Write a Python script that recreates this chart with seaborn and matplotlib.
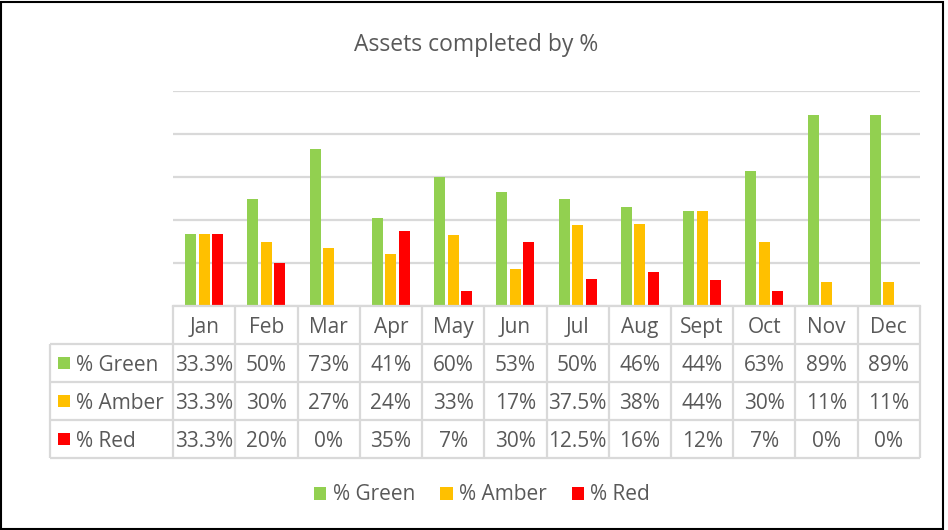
import numpy as np
import pandas as pd
import seaborn as sns
import matplotlib.pyplot as plt
from matplotlib.patches import Rectangle

months = ["Jan", "Feb", "Mar", "Apr", "May", "Jun", "Jul", "Aug", "Sept", "Oct", "Nov", "Dec"]
green = [33.3, 50, 73, 41, 60, 53, 50, 46, 44, 63, 89, 89]
amber = [33.3, 30, 27, 24, 33, 17, 37.5, 38, 44, 30, 11, 11]
red = [33.3, 20, 0, 35, 7, 30, 12.5, 16, 12, 7, 0, 0]
series_names = ["% Green", "% Amber", "% Red"]
colors = ["#92D050", "#FFC000", "#FF0000"]

df = pd.DataFrame({
    "month": months * 3,
    "value": green + amber + red,
    "series": np.repeat(series_names, len(months)),
})

sns.set_theme(style="white")
plt.rcParams["font.family"] = ["Open Sans", "DejaVu Sans"]
text_color = "#595959"
grid_color = "#D9D9D9"
fs = 15

W, H = 948, 530
fig = plt.figure(figsize=(W / 100, H / 100), dpi=100)


def fx(px):
    return px / W


def fy(py):
    return 1 - py / H


# main bar chart
ax = fig.add_axes([fx(173), fy(306), fx(920) - fx(173), fy(91) - fy(306)])
sns.barplot(data=df, x="month", y="value", hue="series",
            palette=dict(zip(series_names, colors)), saturation=1,
            width=0.65, gap=0.18, linewidth=0, ax=ax)
ax.set_xlim(-0.5, 11.5)
ax.set_ylim(0, 100)
ax.set_yticks(range(0, 101, 20))
ax.yaxis.grid(True, color=grid_color, lw=1.6)
ax.set_axisbelow(True)
ax.set(xlabel="", ylabel="")
ax.set_xticklabels([])
ax.set_yticklabels([])
ax.tick_params(length=0)
for s in ["left", "right", "top"]:
    ax.spines[s].set_visible(False)
ax.spines["bottom"].set_color(grid_color)
ax.spines["bottom"].set_linewidth(1.6)
handles, labels = ax.get_legend_handles_labels()
ax.get_legend().remove()

# data table below the chart
tab = fig.add_axes([fx(173), fy(458), fx(920) - fx(173), fy(306) - fy(458)])
tab.set_xlim(-0.5, 11.5)
tab.set_ylim(4, 0)
tab.axis("off")
unit = (920 - 173) / 12
left = -0.5 - (173 - 50) / unit
line_kw = dict(color=grid_color, lw=1.6, clip_on=False, solid_capstyle="butt")
for r in [1, 2, 3, 4]:
    tab.plot([left, 11.5], [r, r], **line_kw)
for c in np.arange(-0.5, 12):
    tab.plot([c, c], [0, 4], **line_kw)
tab.plot([left, left], [1, 4], **line_kw)

ty = 0.56  # vertical text position inside each row
for i, m in enumerate(months):
    tab.text(i, ty, m, ha="center", va="center", fontsize=fs, color=text_color)

key_x = -0.5 - (173 - 64) / unit
lab_x = -0.5 - (173 - 76) / unit
for r, (name, vals, col) in enumerate(zip(series_names, [green, amber, red], colors), start=1):
    for i, v in enumerate(vals):
        tab.text(i, r + ty, f"{v:g}%", ha="center", va="center",
                 fontsize=fs, color=text_color)
    tab.scatter([key_x], [r + 0.5], marker="s", s=85, color=col,
                linewidths=0, clip_on=False)
    tab.text(lab_x, r + ty, name, ha="left", va="center",
             fontsize=fs, color=text_color)

# title and legend
fig.text(fx(476), fy(45), "Assets completed by %", ha="center", va="center",
         fontsize=16.5, color=text_color)
fig.legend(handles, labels, loc="center", bbox_to_anchor=(fx(482), fy(495)),
           ncol=3, frameon=False, fontsize=fs, labelcolor=text_color,
           handlelength=0.6, handleheight=0.6, handletextpad=0.3,
           columnspacing=1.2)

fig.patches.append(Rectangle((0.001, 0.002), 0.994, 0.994, transform=fig.transFigure,
                             fill=False, edgecolor="black", lw=1.5))

fig.savefig("out.png", dpi=100)
